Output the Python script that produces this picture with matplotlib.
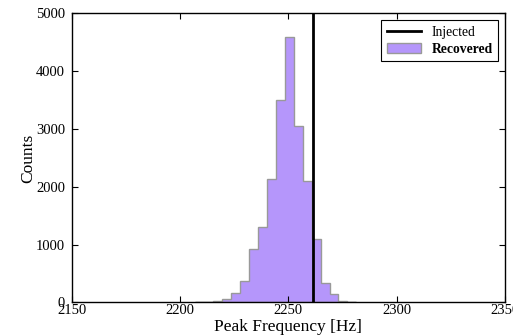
import numpy as np
import matplotlib
matplotlib.use("Agg")
import matplotlib.pyplot as plt

# Data
bin_start = 2207.1
bin_width = 4.13
counts = [5, 0, 22, 65, 155, 370, 920, 1310, 2130, 3510, 4600, 3060, 2100, 1095, 340, 145, 30, 5]
injected = 2261.5
xticks = [2150, 2200, 2250, 2300, 2350]
yticks = [0, 1000, 2000, 3000, 4000, 5000]

edges = bin_start + bin_width * np.arange(len(counts) + 1)
centers = 0.5 * (edges[:-1] + edges[1:])

plt.rcParams['font.family'] = ['Liberation Serif', 'DejaVu Serif']
fig = plt.figure(figsize=(5.13, 3.36), dpi=100)
ax = fig.add_axes([0.140, 0.100, 0.844, 0.860])

ax.hist(centers, bins=edges, weights=counts, histtype='stepfilled',
        facecolor='#b596fb', edgecolor='#999999', linewidth=1.0, label='Recovered')
ax.axvline(injected, color='black', linewidth=2.0, label='Injected')

ax.set_xlim(2150, 2350)
ax.set_ylim(0, 5000)
ax.set_xticks(xticks)
ax.set_yticks(yticks)
ax.tick_params(direction='in', top=True, right=True, labelsize=10.5, length=4)
ax.tick_params(axis='x', pad=1)
ax.tick_params(axis='y', pad=5)
for s in ax.spines.values():
    s.set_linewidth(1.0)
ax.set_xlabel('Peak Frequency [Hz]', fontsize=12.5, labelpad=1.5)
ax.set_ylabel('Counts', fontsize=12.5, labelpad=0)

h, l = ax.get_legend_handles_labels()
leg = ax.legend([h[1], h[0]], [l[1], l[0]], loc='upper right', fontsize=9.8,
                fancybox=False, edgecolor='black', framealpha=1,
                borderaxespad=0.5, handlelength=2.5, borderpad=0.4,
                labelspacing=0.3)
leg.get_frame().set_linewidth(0.8)
leg.get_texts()[1].set_fontweight('bold')

fig.savefig('out.png', dpi=100)
